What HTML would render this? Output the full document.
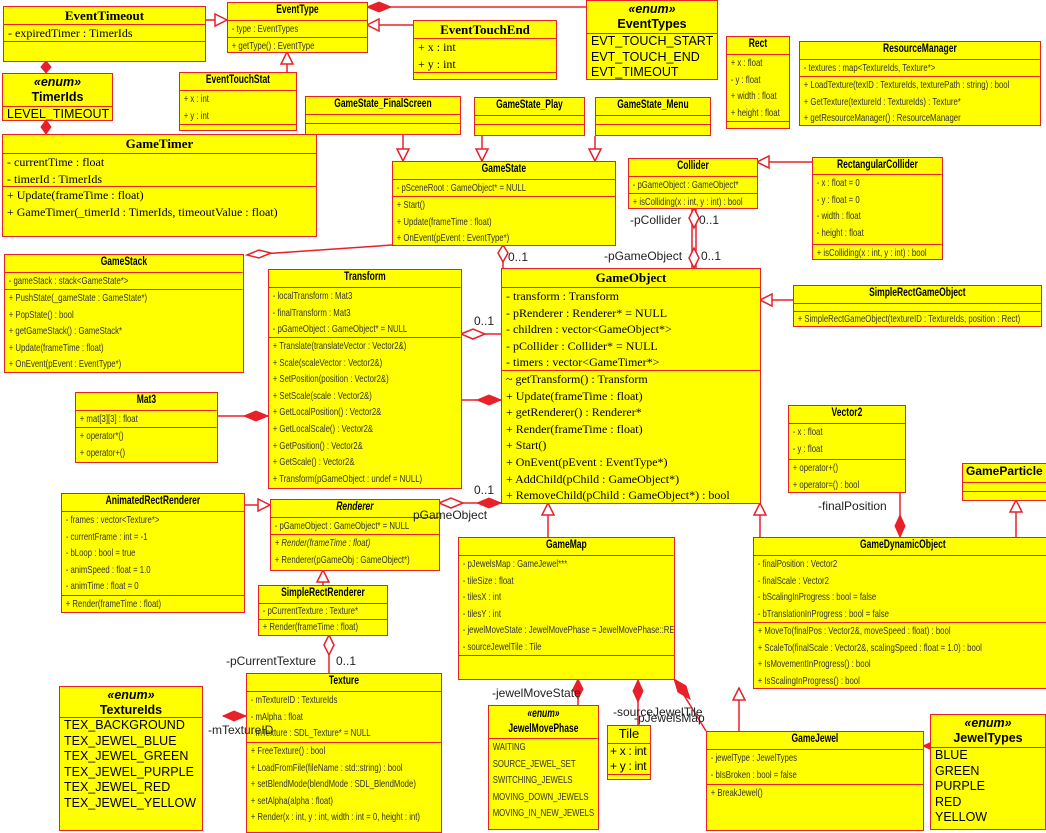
<!DOCTYPE html>
<html><head><meta charset="utf-8"><style>
body{margin:0;width:1046px;height:826px;background:#fff;position:relative;overflow:hidden;font-family:"Liberation Sans",sans-serif;}
.c{position:absolute;background:#ff0;border:1.5px solid #e8202a;box-sizing:border-box;display:flex;flex-direction:column;overflow:hidden;}
.c>div{border-top:1.5px solid #e8202a;box-sizing:border-box;overflow:hidden;white-space:nowrap;}
.c>div:first-child{border-top:none;}
.t{font-weight:bold;text-align:center;font-size:11.5px;line-height:15px;width:135%;transform:scaleX(.74);transform-origin:0 0;flex-shrink:0;}
.n{font-size:10.5px;line-height:16.6px;padding-left:5px;color:#333;width:135%;transform:scaleX(.74);transform-origin:0 0;flex-shrink:0;}
.s{font-family:"Liberation Serif",serif;font-size:12px;line-height:16.6px;padding-left:4px;}
.st{font-family:"Liberation Serif",serif;font-weight:bold;font-size:13px;line-height:17px;text-align:center;}
.e{font-family:"Liberation Sans",sans-serif;font-size:12.5px;line-height:15.6px;padding-left:4px;}
.eh{font-family:"Liberation Sans",sans-serif;font-weight:bold;text-align:center;font-size:12.5px;line-height:15px;}
.eh i{font-weight:bold;}
svg{position:absolute;left:0;top:0;}
.l{position:absolute;font-family:"Liberation Sans",sans-serif;font-size:12px;color:#222;white-space:nowrap;}
</style></head><body>
<svg width="1046" height="826" viewBox="0 0 1046 826">
<g stroke="#e8202a" stroke-width="1.5" fill="none">
<line x1="205" y1="20" x2="227" y2="20"/>
<line x1="413" y1="25" x2="367" y2="25"/>
<line x1="367" y1="7" x2="586" y2="7"/>
<line x1="287" y1="72" x2="287" y2="52"/>
<line x1="46" y1="61" x2="46" y2="73"/>
<line x1="46" y1="120" x2="46" y2="134"/>
<line x1="403" y1="134" x2="403" y2="161"/>
<line x1="482" y1="136" x2="482" y2="161"/>
<line x1="595" y1="136" x2="595" y2="161"/>
<line x1="247" y1="255" x2="392" y2="245"/>
<line x1="503" y1="245" x2="503" y2="268"/>
<line x1="692" y1="208" x2="692" y2="268"/>
<line x1="696" y1="208" x2="696" y2="268"/>
<line x1="812" y1="162" x2="757" y2="162"/>
<line x1="461" y1="334" x2="501" y2="334"/>
<line x1="461" y1="400" x2="501" y2="400"/>
<line x1="217" y1="416" x2="268" y2="416"/>
<line x1="793" y1="300" x2="760" y2="300"/>
<line x1="439" y1="503" x2="501" y2="503"/>
<line x1="244" y1="505" x2="270" y2="505"/>
<line x1="323" y1="585" x2="323" y2="570"/>
<line x1="329" y1="635" x2="329" y2="673"/>
<line x1="223" y1="716" x2="246" y2="716"/>
<line x1="548" y1="537" x2="548" y2="503"/>
<line x1="760" y1="537" x2="760" y2="503"/>
<line x1="900" y1="492" x2="900" y2="537"/>
<line x1="1016" y1="500" x2="1016" y2="537"/>
<line x1="578" y1="679" x2="578" y2="705"/>
<line x1="638" y1="680" x2="638" y2="725"/>
<line x1="674" y1="679" x2="706" y2="731"/>
<line x1="739" y1="688" x2="739" y2="731"/>
<line x1="923" y1="746" x2="930" y2="746"/>
</g>
<g stroke="#e8202a" stroke-width="1.5" fill="#fff">
<polygon points="227,20 215,14 215,26"/>
<polygon points="367,25 379,19 379,31"/>
<polygon points="287,52 281,64 293,64"/>
<polygon points="403,161 397,149 409,149"/>
<polygon points="482,161 476,149 488,149"/>
<polygon points="595,161 589,149 601,149"/>
<polygon points="247,255 259,250 271,253 259,258"/>
<polygon points="503,245 498,253 503,262 508,253"/>
<polygon points="694,208 689,218 694,228 699,218"/>
<polygon points="694,248 689,258 694,268 699,258"/>
<polygon points="757,162 769,156 769,168"/>
<polygon points="461,334 473,329 485,334 473,339"/>
<polygon points="760,300 772,294 772,306"/>
<polygon points="439,503 451,498 463,503 451,508"/>
<polygon points="270,505 258,499 258,511"/>
<polygon points="323,570 317,582 329,582"/>
<polygon points="329,635 324,645 329,655 334,645"/>
<polygon points="548,503 542,515 554,515"/>
<polygon points="760,503 754,515 766,515"/>
<polygon points="1016,500 1010,512 1022,512" fill="#fff"/>
<polygon points="739,688 733,700 745,700"/>
</g>
<g fill="#e8202a" stroke="#e8202a" stroke-width="1">
<polygon points="367,7 379,2 391,7 379,12"/>
<polygon points="46,61 41,67 46,73 51,67"/>
<polygon points="46,120 41,127 46,134 51,127"/>
<polygon points="501,400 489,395 477,400 489,405"/>
<polygon points="268,416 256,411 244,416 256,421"/>
<polygon points="501,503 489,498 477,503 489,508"/>
<polygon points="223,716 234,711 246,716 234,721"/>
<polygon points="900,537 895,526 900,515 905,526"/>
<polygon points="578,679 573,689 578,699 583,689"/>
<polygon points="638,680 633,691 638,702 643,691"/>
<polygon points="674,679 686,686 690,699 678,692"/>
<polygon points="923,746 934,741 946,746 934,751"/>
</g>
</svg>

<div class="c" style="left:3px;top:6px;width:203px;height:56px"><div class="st" style="height:17px">EventTimeout</div><div class="s" style="height:17px">- expiredTimer : TimerIds</div><div style="flex:1"></div></div>
<div class="c" style="left:227px;top:2px;width:141px;height:51px"><div class="t" style="height:17px">EventType</div><div class="n" style="height:17px">- type : EventTypes</div><div class="n" style="flex:1">+ getType() : EventType</div></div>
<div class="c" style="left:413px;top:20px;width:144px;height:60px"><div class="st" style="height:17px">EventTouchEnd</div><div class="s" style="height:34px">+ x : int<br>+ y : int</div><div style="flex:1"></div></div>
<div class="c" style="left:586px;top:0px;width:132px;height:80px"><div class="eh" style="height:32px;padding-top:1px"><i>«enum»</i><br>EventTypes</div><div class="e" style="flex:1">EVT_TOUCH_START<br>EVT_TOUCH_END<br>EVT_TIMEOUT</div></div>
<div class="c" style="left:726px;top:36px;width:64px;height:93px"><div class="t" style="height:17px">Rect</div><div class="n" style="height:67px">+ x : float<br>- y : float<br>+ width : float<br>+ height : float</div><div style="flex:1"></div></div>
<div class="c" style="left:799px;top:41px;width:242px;height:85px"><div class="t" style="height:17px">ResourceManager</div><div class="n" style="height:17px">- textures : map&lt;TextureIds, Texture*&gt;</div><div class="n" style="flex:1">+ LoadTexture(texID : TextureIds, texturePath : string) : bool<br>+ GetTexture(textureId : TextureIds) : Texture*<br>+ getResourceManager() : ResourceManager</div></div>
<div class="c" style="left:2px;top:73px;width:111px;height:48px"><div class="eh" style="height:32px;padding-top:1px"><i>«enum»</i><br>TimerIds</div><div class="e" style="flex:1">LEVEL_TIMEOUT</div></div>
<div class="c" style="left:179px;top:72px;width:118px;height:59px"><div class="t" style="height:17px">EventTouchStat</div><div class="n" style="height:34px">+ x : int<br>+ y : int</div><div style="flex:1"></div></div>
<div class="c" style="left:305px;top:96px;width:156px;height:39px"><div class="t" style="height:17px">GameState_FinalScreen</div><div style="height:9px"></div><div style="flex:1"></div></div>
<div class="c" style="left:474px;top:97px;width:111px;height:39px"><div class="t" style="height:17px">GameState_Play</div><div style="height:9px"></div><div style="flex:1"></div></div>
<div class="c" style="left:595px;top:97px;width:116px;height:39px"><div class="t" style="height:17px">GameState_Menu</div><div style="height:9px"></div><div style="flex:1"></div></div>
<div class="c" style="left:2px;top:134px;width:315px;height:103px"><div class="st" style="height:18px">GameTimer</div><div class="s" style="height:33px">- currentTime : float<br>- timerId : TimerIds</div><div class="s" style="flex:1">+ Update(frameTime : float)<br>+ GameTimer(_timerId : TimerIds, timeoutValue : float)</div></div>
<div class="c" style="left:392px;top:161px;width:224px;height:85px"><div class="t" style="height:17px">GameState</div><div class="n" style="height:17px">- pSceneRoot : GameObject* = NULL</div><div class="n" style="flex:1">+ Start()<br>+ Update(frameTime : float)<br>+ OnEvent(pEvent : EventType*)</div></div>
<div class="c" style="left:628px;top:158px;width:130px;height:51px"><div class="t" style="height:17px">Collider</div><div class="n" style="height:17px">- pGameObject : GameObject*</div><div class="n" style="flex:1">+ isColliding(x : int, y : int) : bool</div></div>
<div class="c" style="left:812px;top:157px;width:131px;height:103px"><div class="t" style="height:16px">RectangularCollider</div><div class="n" style="height:70px">- x : float = 0<br>- y : float = 0<br>- width : float<br>- height : float</div><div class="n" style="flex:1">+ isColliding(x : int, y : int) : bool</div></div>
<div class="c" style="left:4px;top:254px;width:240px;height:119px"><div class="t" style="height:17px">GameStack</div><div class="n" style="height:17px">- gameStack : stack&lt;GameState*&gt;</div><div class="n" style="flex:1">+ PushState(_gameState : GameState*)<br>+ PopState() : bool<br>+ getGameStack() : GameStack*<br>+ Update(frameTime : float)<br>+ OnEvent(pEvent : EventType*)</div></div>
<div class="c" style="left:268px;top:269px;width:194px;height:220px"><div class="t" style="height:17px">Transform</div><div class="n" style="height:50px">- localTransform : Mat3<br>- finalTransform : Mat3<br>- pGameObject : GameObject* = NULL</div><div class="n" style="flex:1">+ Translate(translateVector : Vector2&amp;)<br>+ Scale(scaleVector : Vector2&amp;)<br>+ SetPosition(position : Vector2&amp;)<br>+ SetScale(scale : Vector2&amp;)<br>+ GetLocalPosition() : Vector2&amp;<br>+ GetLocalScale() : Vector2&amp;<br>+ GetPosition() : Vector2&amp;<br>+ GetScale() : Vector2&amp;<br>+ Transform(pGameObject : undef = NULL)</div></div>
<div class="c" style="left:501px;top:268px;width:260px;height:236px"><div class="st" style="height:18px">GameObject</div><div class="s" style="height:83px">- transform : Transform<br>- pRenderer : Renderer* = NULL<br>- children : vector&lt;GameObject*&gt;<br>- pCollider : Collider* = NULL<br>- timers : vector&lt;GameTimer*&gt;</div><div class="s" style="flex:1">~ getTransform() : Transform<br>+ Update(frameTime : float)<br>+ getRenderer() : Renderer*<br>+ Render(frameTime : float)<br>+ Start()<br>+ OnEvent(pEvent : EventType*)<br>+ AddChild(pChild : GameObject*)<br>+ RemoveChild(pChild : GameObject*) : bool</div></div>
<div class="c" style="left:793px;top:285px;width:249px;height:42px"><div class="t" style="height:17px">SimpleRectGameObject</div><div style="height:8px"></div><div class="n" style="flex:1;line-height:14px">+ SimpleRectGameObject(textureID : TextureIds, position : Rect)</div></div>
<div class="c" style="left:75px;top:392px;width:143px;height:71px"><div class="t" style="height:17px">Mat3</div><div class="n" style="height:17px">+ mat[3][3] : float</div><div class="n" style="flex:1">+ operator*()<br>+ operator+()</div></div>
<div class="c" style="left:788px;top:405px;width:118px;height:88px"><div class="t" style="height:17px">Vector2</div><div class="n" style="height:36px">- x : float<br>- y : float</div><div class="n" style="flex:1">+ operator+()<br>+ operator=() : bool</div></div>
<div class="c" style="left:962px;top:463px;width:90px;height:38px"><div class="eh" style="height:18px;font-size:12px;text-align:left;padding-left:3px">GameParticle</div><div style="height:9px"></div><div style="flex:1"></div></div>
<div class="c" style="left:61px;top:493px;width:184px;height:120px"><div class="t" style="height:17px">AnimatedRectRenderer</div><div class="n" style="height:84px">- frames : vector&lt;Texture*&gt;<br>- currentFrame : int = -1<br>- bLoop : bool = true<br>- animSpeed : float = 1.0<br>- animTime : float = 0</div><div class="n" style="flex:1">+ Render(frameTime : float)</div></div>
<div class="c" style="left:270px;top:499px;width:170px;height:72px"><div class="t" style="height:17px;font-style:italic">Renderer</div><div class="n" style="height:17px">- pGameObject : GameObject* = NULL</div><div class="n" style="flex:1"><i>+ Render(frameTime : float)</i><br>+ Renderer(pGameObj : GameObject*)</div></div>
<div class="c" style="left:258px;top:585px;width:130px;height:51px"><div class="t" style="height:17px">SimpleRectRenderer</div><div class="n" style="height:16px;line-height:15px">- pCurrentTexture : Texture*</div><div class="n" style="flex:1;line-height:15px">+ Render(frameTime : float)</div></div>
<div class="c" style="left:458px;top:537px;width:217px;height:143px"><div class="t" style="height:17px">GameMap</div><div class="n" style="height:100px">- pJewelsMap : GameJewel***<br>- tileSize : float<br>- tilesX : int<br>- tilesY : int<br>- jewelMoveState : JewelMovePhase = JewelMovePhase::RESET<br>- sourceJewelTile : Tile</div><div style="flex:1"></div></div>
<div class="c" style="left:753px;top:537px;width:300px;height:152px"><div class="t" style="height:17px">GameDynamicObject</div><div class="n" style="height:67px">- finalPosition : Vector2<br>- finalScale : Vector2<br>- bScalingInProgress : bool = false<br>- bTranslationInProgress : bool = false</div><div class="n" style="flex:1">+ MoveTo(finalPos : Vector2&amp;, moveSpeed : float) : bool<br>+ ScaleTo(finalScale : Vector2&amp;, scalingSpeed : float = 1.0) : bool<br>+ IsMovementInProgress() : bool<br>+ IsScalingInProgress() : bool</div></div>
<div class="c" style="left:246px;top:673px;width:196px;height:160px"><div class="t" style="height:17px">Texture</div><div class="n" style="height:51px">- mTextureID : TextureIds<br>- mAlpha : float<br>- mTexture : SDL_Texture* = NULL</div><div class="n" style="flex:1">+ FreeTexture() : bool<br>+ LoadFromFile(fileName : std::string) : bool<br>+ setBlendMode(blendMode : SDL_BlendMode)<br>+ setAlpha(alpha : float)<br>+ Render(x : int, y : int, width : int = 0, height : int)</div></div>
<div class="c" style="left:59px;top:686px;width:144px;height:145px"><div class="eh" style="height:30px;padding-top:1px"><i>«enum»</i><br>TextureIds</div><div class="e" style="flex:1">TEX_BACKGROUND<br>TEX_JEWEL_BLUE<br>TEX_JEWEL_GREEN<br>TEX_JEWEL_PURPLE<br>TEX_JEWEL_RED<br>TEX_JEWEL_YELLOW</div></div>
<div class="c" style="left:488px;top:705px;width:111px;height:125px"><div class="t" style="height:32px;padding-top:1px"><i>«enum»</i><br>JewelMovePhase</div><div class="n" style="flex:1">WAITING<br>SOURCE_JEWEL_SET<br>SWITCHING_JEWELS<br>MOVING_DOWN_JEWELS<br>MOVING_IN_NEW_JEWELS</div></div>
<div class="c" style="left:607px;top:725px;width:44px;height:55px"><div class="eh" style="height:17px;font-weight:normal;font-size:13px">Tile</div><div class="e" style="height:31px;line-height:15px;font-size:12px;padding-left:2px;letter-spacing:-0.3px">+ x : int<br>+ y : int</div><div style="flex:1"></div></div>
<div class="c" style="left:706px;top:731px;width:218px;height:100px"><div class="t" style="height:17px">GameJewel</div><div class="n" style="height:35px">- jewelType : JewelTypes<br>- bIsBroken : bool = false</div><div class="n" style="flex:1">+ BreakJewel()</div></div>
<div class="c" style="left:930px;top:714px;width:116px;height:116px"><div class="eh" style="height:32px;padding-top:1px"><i>«enum»</i><br>JewelTypes</div><div class="e" style="flex:1">BLUE<br>GREEN<br>PURPLE<br>RED<br>YELLOW</div></div>

<div class="l" style="left:508px;top:250px">0..1</div>
<div class="l" style="left:630px;top:213px">-pCollider</div>
<div class="l" style="left:699px;top:213px">0..1</div>
<div class="l" style="left:604px;top:249px">-pGameObject</div>
<div class="l" style="left:701px;top:249px">0..1</div>
<div class="l" style="left:474px;top:314px">0..1</div>
<div class="l" style="left:474px;top:483px">0..1</div>
<div class="l" style="left:413px;top:508px">pGameObject</div>
<div class="l" style="left:226px;top:654px">-pCurrentTexture</div>
<div class="l" style="left:336px;top:654px">0..1</div>
<div class="l" style="left:208px;top:723px">-mTextureID</div>
<div class="l" style="left:818px;top:499px">-finalPosition</div>
<div class="l" style="left:492px;top:686px">-jewelMoveState</div>
<div class="l" style="left:613px;top:705px">-sourceJewelTile</div>
<div class="l" style="left:634px;top:711px">-pJewelsMap</div>
</body></html>
